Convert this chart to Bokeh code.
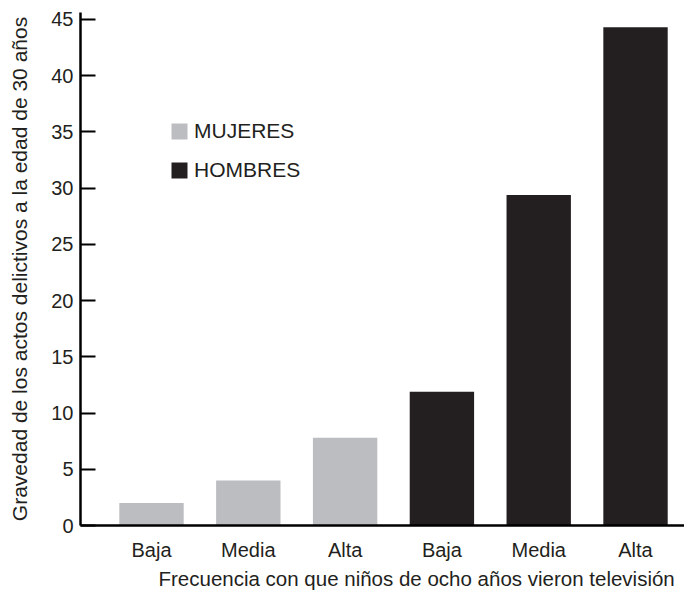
from bokeh.plotting import figure
from bokeh.models import Range1d, FixedTicker, Title, ColumnDataSource
from bokeh.embed import file_html
from bokeh.resources import INLINE

# Data
categories = ["Baja", "Media", "Alta", "Baja", "Media", "Alta"]
groups = ["MUJERES", "MUJERES", "MUJERES", "HOMBRES", "HOMBRES", "HOMBRES"]
values = [2.0, 4.0, 7.8, 11.9, 29.4, 44.3]
y_ticks = [0, 5, 10, 15, 20, 25, 30, 35, 40, 45]
x_title = "Frecuencia con que niños de ocho años vieron televisión"
y_title = "Gravedad de los actos delictivos a la edad de 30 años"
colors = {"MUJERES": "#bcbdc0", "HOMBRES": "#231f20"}

FONT = "Liberation Sans"
TXT = "#231f20"

p = figure(width=684, height=591, output_backend="svg", toolbar_location=None,
           x_range=Range1d(-0.7335, 5.506), y_range=Range1d(0, 45.62),
           min_border_left=80, min_border_right=0, min_border_top=12, min_border_bottom=66)
p.outline_line_color = None
p.xgrid.visible = False
p.ygrid.visible = False
p.background_fill_color = "white"
p.border_fill_color = "white"

for g in ["MUJERES", "HOMBRES"]:
    idx = [i for i, gg in enumerate(groups) if gg == g]
    src = ColumnDataSource(dict(x=idx, top=[values[i] for i in idx]))
    p.vbar(x="x", top="top", width=0.665, bottom=0, source=src,
           fill_color=colors[g], line_color=None, legend_label=g)

# Y axis
ya = p.yaxis[0]
ya.ticker = FixedTicker(ticks=y_ticks)
ya.axis_line_width = 2.5
ya.axis_line_color = "#000000"
ya.major_tick_in = 15
ya.major_tick_out = 0
ya.major_tick_line_width = 2
ya.major_tick_line_color = "#000000"
ya.minor_tick_line_color = None
ya.major_label_text_font = FONT
ya.major_label_text_font_size = "20px"
ya.major_label_text_color = TXT
ya.major_label_standoff = 7
ya.axis_label = y_title
ya.axis_label_text_font = FONT
ya.axis_label_text_font_size = "21px"
ya.axis_label_text_font_style = "normal"
ya.axis_label_text_color = TXT
ya.axis_label_standoff = 17

# X axis
xa = p.xaxis[0]
xa.ticker = FixedTicker(ticks=list(range(len(categories))))
xa.major_label_overrides = {i: c for i, c in enumerate(categories)}
xa.axis_line_width = 2.5
xa.axis_line_color = "#000000"
xa.major_tick_line_color = None
xa.minor_tick_line_color = None
xa.major_label_text_font = FONT
xa.major_label_text_font_size = "20px"
xa.major_label_text_color = TXT
xa.major_label_standoff = 7

p.add_layout(Title(text=x_title, align="left", offset=78, standoff=2,
                   text_font=FONT, text_font_size="20.5px", text_font_style="normal",
                   text_color=TXT), "below")

leg = p.legend[0]
leg.location = (89, 343)
leg.border_line_color = None
leg.background_fill_alpha = 0
leg.padding = 0
leg.margin = 0
leg.glyph_width = 20
leg.glyph_height = 20
leg.label_height = 20
leg.spacing = 15
leg.label_standoff = 5
leg.label_text_font = FONT
leg.label_text_font_size = "21px"
leg.label_text_color = TXT

open("out.html", "w").write(file_html(p, INLINE))
